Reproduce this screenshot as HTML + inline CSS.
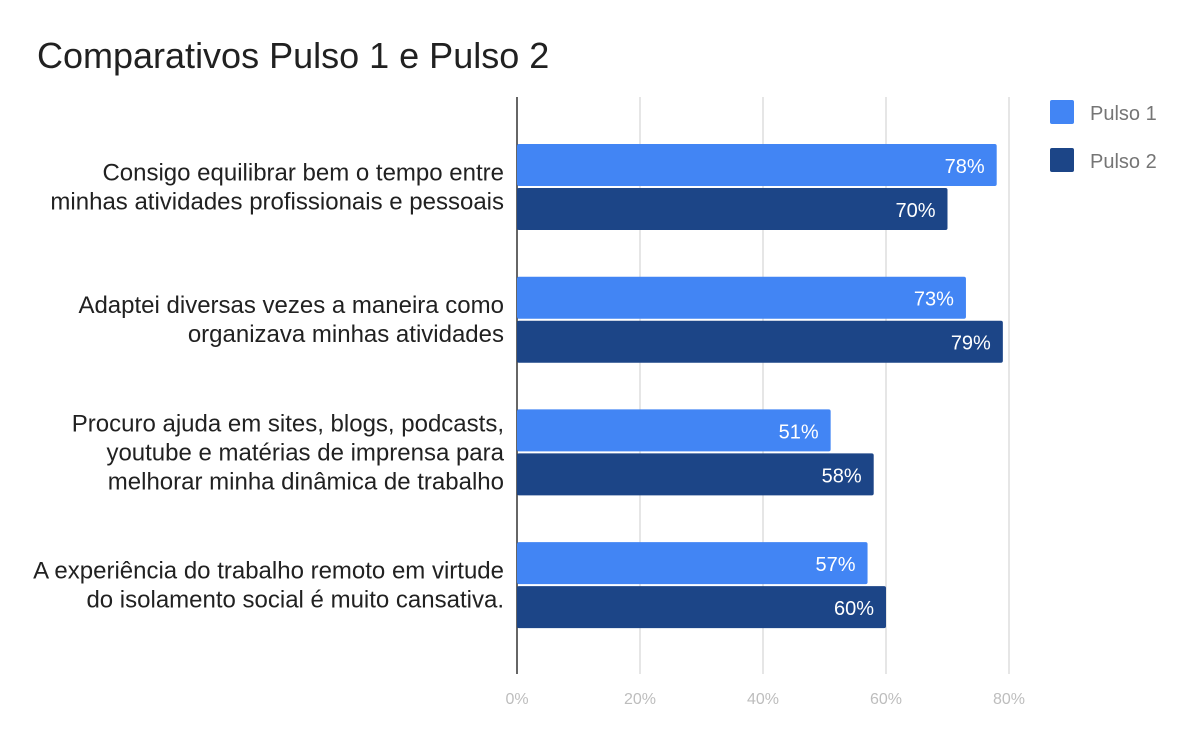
<!DOCTYPE html>
<html><head><meta charset="utf-8"><style>
body{margin:0;background:#fff;}
svg{display:block;font-family:"Liberation Sans",Roboto,sans-serif;}
</style></head><body>
<svg id="chart" width="1200" height="742" viewBox="0 0 1200 742">
<text x="37" y="68" font-size="36" fill="#212121">Comparativos Pulso 1 e Pulso 2</text>
<g id="grid"></g><g id="bars"></g><g id="labels"></g>
<g>
<rect x="1050" y="100" width="24" height="24" rx="2" fill="#4285f4"/>
<text x="1090" y="120" font-size="20" fill="#757575">Pulso 1</text>
<rect x="1050" y="148" width="24" height="24" rx="2" fill="#1c4587"/>
<text x="1090" y="168" font-size="20" fill="#757575">Pulso 2</text>
</g>
</svg>
<script>
const categories = [
 ["Consigo equilibrar bem o tempo entre","minhas atividades profissionais e pessoais"],
 ["Adaptei diversas vezes a maneira como","organizava minhas atividades"],
 ["Procuro ajuda em sites, blogs, podcasts,","youtube e matérias de imprensa para","melhorar minha dinâmica de trabalho"],
 ["A experiência do trabalho remoto em virtude","do isolamento social é muito cansativa."]
];
const pulso1 = [78, 73, 51, 57];
const pulso2 = [70, 79, 58, 60];
const ticks = [0, 20, 40, 60, 80];

const NS = "http://www.w3.org/2000/svg";
const x0 = 517, pxPer = 6.15, plotTop = 97, plotBottom = 674;
const xs = v => x0 + v * pxPer;
const center = i => plotTop + 90 + i * 132.7;
function mk(tag, attrs, parent){const e=document.createElementNS(NS,tag);for(const k in attrs)e.setAttribute(k,attrs[k]);parent.appendChild(e);return e;}
const grid = document.getElementById('grid'), bars = document.getElementById('bars'), labels = document.getElementById('labels');
ticks.forEach(t => {
  if (t > 0) {
    const l = mk('line',{x1:xs(t),x2:xs(t),y1:plotTop,y2:plotBottom,stroke:'#cccccc','stroke-width':1},grid);
    
    
  }
  const tx = mk('text',{x:xs(t),y:704,'font-size':16,fill:'#bdbdbd','text-anchor':'middle'},grid);
  tx.textContent = t + '%';
  
  
});
categories.forEach((lines, i) => {
  const c = center(i);
  [[pulso1[i],'#4285f4',c-43,'pulso-1'],[pulso2[i],'#1c4587',c+1,'pulso-2']].forEach(([v,col,y,s]) => {
    const r = mk('rect',{x:x0,y:y,width:xs(v)-x0,height:42,rx:2,fill:col},bars);
    
    
    const t = mk('text',{x:xs(v)-12,y:y+29,'font-size':20,fill:'#fff','text-anchor':'end'},bars);
    t.textContent = v + '%';
    
    
  });
  const n = lines.length, lh = 29;
  lines.forEach((ln, j) => {
    const t = mk('text',{x:504,y:c + (j - (n-1)/2)*lh + 8,'font-size':24,fill:'#212121','text-anchor':'end'},labels);
    t.textContent = ln;
    
    
  });
});
const ax = mk('line',{x1:x0,x2:x0,y1:plotTop,y2:plotBottom,stroke:'#333','stroke-width':1.5},grid);


</script>
</body></html>
